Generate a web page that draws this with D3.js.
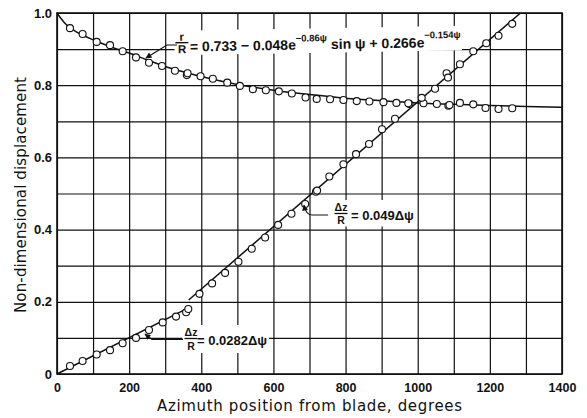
<!DOCTYPE html>
<html>
<head>
<meta charset="utf-8">
<script src="https://cdn.jsdelivr.net/npm/d3@7"></script>
<style>
  html, body { margin: 0; padding: 0; background: #fff; }
  svg { display: block; }
</style>
</head>
<body>
<div id="chart"></div>
<script>
(function() {
    'use strict';

    // radial displacement r/R (circles, upper series)
    const radialAz = [36, 71, 110, 147, 182, 219, 255, 291, 327, 360, 362, 398, 432, 472, 507, 543, 579, 615, 651, 689,
        720, 757, 794, 831, 866, 905, 941, 977, 1016, 1053, 1085, 1088, 1117, 1154, 1188, 1224, 1262];
    const radialVal = [0.958, 0.942, 0.920, 0.911, 0.894, 0.877, 0.862, 0.853, 0.840, 0.828, 0.833, 0.825, 0.818, 0.807, 0.798, 0.789, 0.786, 0.783, 0.777, 0.766,
        0.762, 0.761, 0.759, 0.756, 0.755, 0.753, 0.751, 0.748, 0.750, 0.748, 0.743, 0.745, 0.751, 0.747, 0.737, 0.734, 0.736];

    // axial displacement dz/R (circles, rising series)
    const axialAz = [36, 71, 110, 147, 182, 219, 255, 293, 330, 358, 364, 395, 430, 466, 503, 540, 577, 613, 650, 688,
        718, 721, 755, 794, 829, 865, 901, 937, 974, 1011, 1048, 1080, 1084, 1117, 1154, 1190, 1224, 1262];
    const axialVal = [0.022, 0.036, 0.054, 0.066, 0.085, 0.100, 0.122, 0.143, 0.159, 0.171, 0.180, 0.222, 0.251, 0.280, 0.311, 0.347, 0.378, 0.413, 0.444, 0.471,
        0.505, 0.508, 0.547, 0.581, 0.609, 0.637, 0.678, 0.707, 0.750, 0.765, 0.790, 0.833, 0.821, 0.858, 0.894, 0.916, 0.937, 0.970];

    // faired curve through r/R
    const radialFitAz = [0, 10, 20, 35, 50, 75, 100, 150, 200, 250, 300, 350, 400, 500, 600, 700, 800, 900, 1000, 1100, 1200, 1300, 1400];
    const radialFitVal = [1.0, 0.986, 0.974, 0.960, 0.950, 0.937, 0.926, 0.906, 0.889, 0.870, 0.852, 0.837, 0.824, 0.802, 0.786, 0.774, 0.764, 0.757, 0.751, 0.747, 0.744, 0.741, 0.739];

    // two straight fits for dz/R
    const axialFit1Az = [0, 370];
    const axialFit1Val = [0, 0.186];
    const axialFit2Az = [365, 1285];
    const axialFit2Val = [0.205, 1.0];

    // ticks
    const gridAz = d3.range(0, 1401, 100);
    const gridVal = d3.range(0, 11).map(d => d / 10);
    const azTicks = [0, 200, 400, 600, 800, 1000, 1200, 1400];
    const valTicks = [0, 0.2, 0.4, 0.6, 0.8, 1.0];

    const width = 587;
    const height = 418;
    const marginTop = 13;
    const marginRight = 25;
    const marginBottom = 44;
    const marginLeft = 57;

    const ink = "#111";
    const boldFont = "'Liberation Sans', Arial, sans-serif";
    const titleFont = "'DejaVu Sans', sans-serif";

    const svg = d3.select("#chart")
        .append("svg")
        .attr("width", width)
        .attr("height", height);

    const x = d3.scaleLinear()
        .domain([0, 1400])
        .range([marginLeft, width - marginRight]);

    const y = d3.scaleLinear()
        .domain([0, 1])
        .range([height - marginBottom, marginTop]);

    // GRID
    svg.append("g")
        .attr("transform", `translate(0, ${height - marginBottom})`)
        .call(d3.axisBottom(x).tickValues(gridAz).tickSize(-(height - marginTop - marginBottom)).tickFormat(""))
        .call(g => g.select(".domain").remove())
        .selectAll("line")
        .attr("stroke", ink)
        .attr("stroke-width", 1.2);

    svg.append("g")
        .attr("transform", `translate(${marginLeft}, 0)`)
        .call(d3.axisLeft(y).tickValues(gridVal).tickSize(-(width - marginLeft - marginRight)).tickFormat(""))
        .call(g => g.select(".domain").remove())
        .selectAll("line")
        .attr("stroke", ink)
        .attr("stroke-width", 1.2);

    // frame
    svg.append("rect")
        .attr("x", x(0))
        .attr("y", y(1))
        .attr("width", x(1400) - x(0))
        .attr("height", y(0) - y(1))
        .attr("fill", "none")
        .attr("stroke", ink)
        .attr("stroke-width", 1.6);

    // layers
    const boxLayer = svg.append("g");
    const lineLayer = svg.append("g");
    const dotLayer = svg.append("g");
    const labelLayer = svg.append("g");

    // FIT LINES
    const line = d3.line()
        .x(d => x(d[0]))
        .y(d => y(d[1]));

    lineLayer.append("path")
        .datum(d3.zip(radialFitAz, radialFitVal))
        .attr("d", line.curve(d3.curveMonotoneX))
        .attr("fill", "none")
        .attr("stroke", ink)
        .attr("stroke-width", 1.5);

    [[axialFit1Az, axialFit1Val], [axialFit2Az, axialFit2Val]].forEach(function(f) {
        lineLayer.append("path")
            .datum(d3.zip(f[0], f[1]))
            .attr("d", d3.line().x(d => x(d[0])).y(d => y(d[1])))
            .attr("fill", "none")
            .attr("stroke", ink)
            .attr("stroke-width", 1.5);
    });

    // DATA POINTS
    const pts = d3.zip(radialAz, radialVal).concat(d3.zip(axialAz, axialVal));
    dotLayer.selectAll("circle")
        .data(pts)
        .join("circle")
        .attr("cx", d => x(d[0]))
        .attr("cy", d => y(d[1]))
        .attr("r", 3.5)
        .attr("fill", "#fff")
        .attr("stroke", ink)
        .attr("stroke-width", 1.1);

    // arrow marker
    svg.append("defs").append("marker")
        .attr("id", "arrow")
        .attr("viewBox", "0 0 10 10")
        .attr("refX", 9)
        .attr("refY", 5)
        .attr("markerWidth", 7)
        .attr("markerHeight", 6)
        .attr("markerUnits", "userSpaceOnUse")
        .attr("orient", "auto")
        .append("path")
        .attr("d", "M0,0 L10,5 L0,10 Z")
        .attr("fill", ink);

    // label helper: white box behind a label group
    function boxBehind(g, transform, pad) {
        const b = g.node().getBBox();
        boxLayer.append("rect")
            .attr("transform", transform || null)
            .attr("x", b.x - pad)
            .attr("y", b.y - pad + 1)
            .attr("width", b.width + pad * 2)
            .attr("height", b.height + pad * 2 - 2)
            .attr("fill", "#fff");
    }

    function fraction(g, cx, topBase, barY, botBase, top, size) {
        g.append("text").attr("x", cx).attr("y", topBase).attr("text-anchor", "middle")
            .attr("font-size", size).text(top);
        g.append("line").attr("x1", cx - 6.5).attr("x2", cx + 6.5).attr("y1", barY).attr("y2", barY)
            .attr("stroke", ink).attr("stroke-width", 1.3);
        g.append("text").attr("x", cx).attr("y", botBase).attr("text-anchor", "middle")
            .attr("font-size", size).text("R");
    }

    // r/R formula
    const rot1 = "rotate(-1, 190, 48)";
    const g1 = labelLayer.append("g")
        .attr("transform", rot1)
        .attr("font-family", boldFont)
        .attr("font-weight", "bold")
        .attr("fill", ink);
    fraction(g1, 182, 40.5, 42.5, 53, "r", 11.5);
    const t1 = g1.append("text").attr("x", 190).attr("y", 51.5).attr("font-size", 14);
    t1.append("tspan").text("= 0.733 \u2212 0.048e");
    t1.append("tspan").attr("font-size", 9.5).attr("dy", -8).text("\u22120.86\u03c8");
    t1.append("tspan").attr("dy", 8).text(" sin \u03c8 + 0.266e");
    t1.append("tspan").attr("font-size", 9.5).attr("dy", -9).text("\u22120.154\u03c8");
    boxBehind(g1, rot1, 1);

    // dz/R = 0.049 formula
    const g2 = labelLayer.append("g")
        .attr("font-family", boldFont)
        .attr("font-weight", "bold")
        .attr("fill", ink);
    fraction(g2, 341, 211, 213.5, 223.5, "\u0394z", 10.5);
    g2.append("text").attr("x", 351).attr("y", 219.5).attr("font-size", 13).text("= 0.049\u0394\u03c8");
    boxBehind(g2, null, 2);

    // dz/R = 0.0282 formula
    const g3 = labelLayer.append("g")
        .attr("font-family", boldFont)
        .attr("font-weight", "bold")
        .attr("fill", ink);
    fraction(g3, 191, 336, 338.5, 350, "\u0394z", 10.5);
    g3.append("text").attr("x", 197).attr("y", 344.5).attr("font-size", 13).text("= 0.0282\u0394\u03c8");
    boxBehind(g3, null, 2);

    // leaders
    const leaders = [
        "M177,45 H167 L146,58",
        "M328,215 H312 Q306,215 304,205",
        "M183,339.5 H152 L145,334"
    ];
    labelLayer.selectAll("path.leader")
        .data(leaders)
        .join("path")
        .attr("class", "leader")
        .attr("d", d => d)
        .attr("fill", "none")
        .attr("stroke", ink)
        .attr("stroke-width", 1.2)
        .attr("marker-end", "url(#arrow)");

    // AXIS TICK LABELS
    svg.append("g")
        .attr("transform", `translate(0, ${height - marginBottom})`)
        .call(d3.axisBottom(x).tickValues(azTicks).tickSize(0).tickPadding(9).tickFormat(d3.format("d")))
        .call(g => g.select(".domain").remove())
        .selectAll("text")
        .attr("font-family", boldFont)
        .attr("font-weight", "bold")
        .attr("font-size", 12.5)
        .attr("fill", ink);

    svg.append("g")
        .attr("transform", `translate(${marginLeft}, 0)`)
        .call(d3.axisLeft(y).tickValues(valTicks).tickSize(0).tickPadding(5)
            .tickFormat(d => d === 0 ? "0" : d.toFixed(1)))
        .call(g => g.select(".domain").remove())
        .selectAll("text")
        .attr("font-family", boldFont)
        .attr("font-weight", "bold")
        .attr("font-size", 13)
        .attr("fill", ink);

    // AXIS TITLES
    svg.append("text")
        .attr("x", 309.5)
        .attr("y", 411)
        .attr("text-anchor", "middle")
        .attr("font-family", titleFont)
        .attr("font-size", 15)
        .attr("textLength", 305)
        .attr("lengthAdjust", "spacing")
        .attr("fill", ink)
        .text("Azimuth position from blade, degrees");

    svg.append("text")
        .attr("transform", "translate(26, 195) rotate(-90)")
        .attr("text-anchor", "middle")
        .attr("font-family", titleFont)
        .attr("font-size", 15)
        .attr("textLength", 236)
        .attr("lengthAdjust", "spacing")
        .attr("fill", ink)
        .text("Non-dimensional displacement");
})();
</script>
</body>
</html>
